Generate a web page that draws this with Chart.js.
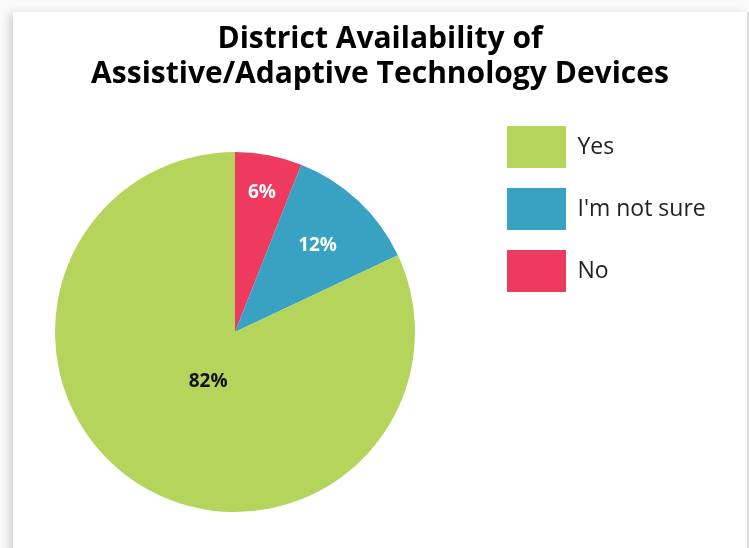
<!DOCTYPE html>
<html>
<head>
<meta charset="utf-8">
<script src="https://cdn.jsdelivr.net/npm/chart.js@4"></script>
<style>
  html, body { margin: 0; padding: 0; background: #fafafa; overflow: hidden; }
  #card {
    position: absolute; left: 13px; top: 12px; width: 734px; height: 560px;
    background: #fff; box-shadow: -3px 2px 9px rgba(0,0,0,0.18);
  }
  #edge { position: absolute; left: 747px; top: 12px; width: 2px; height: 560px; background: #dedede; }
  canvas { position: absolute; left: 0; top: 0; }
</style>
</head>
<body>
<div id="card"><canvas id="chart-pie" width="734" height="560"></canvas></div>
<div id="edge"></div>
<script>
// data, drawn clockwise from 12 o'clock
const categories = ['No', "I'm not sure", 'Yes'];
const shares = [6, 12, 82];
const sliceColors = ['#EE3A5F', '#39A1C2', '#B4D45B'];
const labelColors = ['#ffffff', '#ffffff', '#111111'];

// layout (canvas coords)
const PIE_CX = 222, PIE_CY = 320, PIE_R = 180;
const LEGEND_X = 474, LEGEND_Y = 94;
const LABEL_RADIUS = [0.8, 0.67, 0.31];

const placeBoxes = {
  id: 'placeBoxes',
  afterLayout(chart) {
    chart.chartArea = {
      left: PIE_CX - PIE_R, right: PIE_CX + PIE_R,
      top: PIE_CY - PIE_R, bottom: PIE_CY + PIE_R,
      width: PIE_R * 2, height: PIE_R * 2
    };
    const t = chart.titleBlock;
    t.left = 0; t.right = chart.width; t.width = chart.width;
    const lg = chart.legend;
    const w = lg.width, h = lg.height;
    lg.left = LEGEND_X; lg.right = LEGEND_X + w;
    lg.top = LEGEND_Y; lg.bottom = LEGEND_Y + h;
  }
};

const sliceLabels = {
  id: 'sliceLabels',
  afterDatasetsDraw(chart) {
    const ctx = chart.ctx;
    const meta = chart.getDatasetMeta(0);
    ctx.save();
    ctx.font = 'bold 19px "Open Sans", sans-serif';
    ctx.textAlign = 'center';
    ctx.textBaseline = 'middle';
    meta.data.forEach((arc, i) => {
      const mid = (arc.startAngle + arc.endAngle) / 2;
      const r = arc.outerRadius * LABEL_RADIUS[i];
      ctx.fillStyle = labelColors[i];
      ctx.fillText(shares[i] + '%', arc.x + Math.cos(mid) * r + (i === 2 ? 3 : 0), arc.y + Math.sin(mid) * r + 2);
    });
    ctx.restore();
  }
};

new Chart(document.getElementById('chart-pie'), {
  type: 'pie',
  data: {
    labels: categories,
    datasets: [{
      data: shares,
      backgroundColor: sliceColors,
      borderWidth: 0,
      clip: false
    }]
  },
  options: {
    responsive: false,
    animation: false,
    layout: { padding: 0 },
    plugins: {
      title: {
        display: true,
        text: ['District Availability of', 'Assistive/Adaptive Technology Devices'],
        color: '#000',
        font: { family: '"Open Sans", sans-serif', size: 30, weight: 'bold', lineHeight: 1.17 },
        padding: { top: 10, bottom: 16 }
      },
      legend: {
        position: 'right',
        align: 'start',
        reverse: true,
        labels: {
          boxWidth: 59,
          boxHeight: 42,
          padding: 20,
          color: '#222',
          font: { family: '"Open Sans", sans-serif', size: 23 }
        }
      },
      tooltip: { enabled: false }
    }
  },
  plugins: [placeBoxes, sliceLabels]
});
</script>
</body>
</html>
